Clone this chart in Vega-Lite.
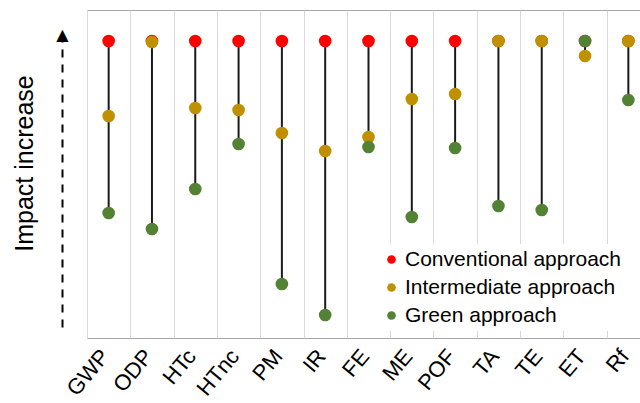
{
  "$schema": "https://vega.github.io/schema/vega-lite/v6.json",
  "autosize": {"type": "none"},
  "padding": {"left": 87, "top": 10, "right": 0, "bottom": 65},
  "width": 563,
  "height": 328,
  "background": "white",
  "config": {
    "font": "Liberation Sans",
    "view": {"stroke": "#a6a6a6", "strokeWidth": 1}
  },
  "data": {
    "values": [
      {"cat": "GWP", "approach": "Conventional approach", "value": 297},
      {"cat": "GWP", "approach": "Intermediate approach", "value": 222},
      {"cat": "GWP", "approach": "Green approach", "value": 125},
      {"cat": "ODP", "approach": "Conventional approach", "value": 297},
      {"cat": "ODP", "approach": "Intermediate approach", "value": 296},
      {"cat": "ODP", "approach": "Green approach", "value": 109},
      {"cat": "HTc", "approach": "Conventional approach", "value": 297},
      {"cat": "HTc", "approach": "Intermediate approach", "value": 230},
      {"cat": "HTc", "approach": "Green approach", "value": 149},
      {"cat": "HTnc", "approach": "Conventional approach", "value": 297},
      {"cat": "HTnc", "approach": "Intermediate approach", "value": 228},
      {"cat": "HTnc", "approach": "Green approach", "value": 194},
      {"cat": "PM", "approach": "Conventional approach", "value": 297},
      {"cat": "PM", "approach": "Intermediate approach", "value": 205},
      {"cat": "PM", "approach": "Green approach", "value": 54},
      {"cat": "IR", "approach": "Conventional approach", "value": 297},
      {"cat": "IR", "approach": "Intermediate approach", "value": 187},
      {"cat": "IR", "approach": "Green approach", "value": 23},
      {"cat": "FE", "approach": "Conventional approach", "value": 297},
      {"cat": "FE", "approach": "Intermediate approach", "value": 201},
      {"cat": "FE", "approach": "Green approach", "value": 191},
      {"cat": "ME", "approach": "Conventional approach", "value": 297},
      {"cat": "ME", "approach": "Intermediate approach", "value": 239},
      {"cat": "ME", "approach": "Green approach", "value": 121},
      {"cat": "POF", "approach": "Conventional approach", "value": 297},
      {"cat": "POF", "approach": "Intermediate approach", "value": 244},
      {"cat": "POF", "approach": "Green approach", "value": 190},
      {"cat": "TA", "approach": "Conventional approach", "value": 297},
      {"cat": "TA", "approach": "Intermediate approach", "value": 297},
      {"cat": "TA", "approach": "Green approach", "value": 132},
      {"cat": "TE", "approach": "Conventional approach", "value": 297},
      {"cat": "TE", "approach": "Intermediate approach", "value": 297},
      {"cat": "TE", "approach": "Green approach", "value": 128},
      {"cat": "ET", "approach": "Conventional approach", "value": 297},
      {"cat": "ET", "approach": "Intermediate approach", "value": 282},
      {"cat": "ET", "approach": "Green approach", "value": 297},
      {"cat": "Rf", "approach": "Conventional approach", "value": 297},
      {"cat": "Rf", "approach": "Intermediate approach", "value": 297},
      {"cat": "Rf", "approach": "Green approach", "value": 238}
    ]
  },
  "encoding": {
    "x": {
      "field": "cat",
      "type": "nominal",
      "sort": null,
      "scale": {"paddingInner": 0, "paddingOuter": 0},
      "axis": {
        "title": null,
        "domain": false,
        "ticks": false,
        "grid": true,
        "gridColor": "#d9d9d9",
        "gridWidth": 1,
        "tickBand": "extent",
        "labelAngle": -50,
        "labelAlign": "right",
        "labelBaseline": "middle",
        "labelPadding": 14,
        "labelOffset": -4,
        "labelFontSize": 22,
        "labelColor": "#000000",
        "labelFont": "Liberation Sans"
      }
    }
  },
  "layer": [
    {
      "mark": {"type": "rule", "color": "#1a1a1a", "strokeWidth": 2},
      "encoding": {
        "y": {
          "aggregate": "min",
          "field": "value",
          "type": "quantitative",
          "scale": {"domain": [0, 328], "nice": false, "zero": false},
          "axis": {
            "title": "Impact increase",
            "titleFontSize": 25,
            "titleFont": "Liberation Sans",
            "titleFontWeight": "normal",
            "titleColor": "#000000",
            "titleAngle": 270,
            "titleBaseline": "alphabetic",
            "titleAlign": "center",
            "titleX": -30,
            "titleY": 153,
            "offset": 25,
            "grid": false,
            "ticks": false,
            "tickSize": 0,
            "values": [304],
            "labelExpr": "'▲'",
            "labelAlign": "center",
            "labelBaseline": "middle",
            "labelPadding": 0,
            "labelFontSize": 16,
            "labelFont": "DejaVu Sans",
            "labelColor": "#000000",
            "domain": true,
            "domainColor": "#000000",
            "domainWidth": 2,
            "domainDash": [8,7,8,7,8,7,8,7,8,7,8,7,8,7,8,7,8,7,8,7,8,7,8,7,8,7,8,7,8,7,8,7,8,7,8,7,8,7,6,37],
            "domainDashOffset": 317
          }
        },
        "y2": {"aggregate": "max", "field": "value"}
      }
    },
    {
      "mark": {"type": "point", "filled": true, "size": 160, "opacity": 1},
      "encoding": {
        "y": {
          "field": "value",
          "type": "quantitative",
          "scale": {"domain": [0, 328], "nice": false, "zero": false},
          "axis": {
            "title": "Impact increase",
            "titleFontSize": 25,
            "titleFont": "Liberation Sans",
            "titleFontWeight": "normal",
            "titleColor": "#000000",
            "titleAngle": 270,
            "titleBaseline": "alphabetic",
            "titleAlign": "center",
            "titleX": -30,
            "titleY": 153,
            "offset": 25,
            "grid": false,
            "ticks": false,
            "tickSize": 0,
            "values": [304],
            "labelExpr": "'▲'",
            "labelAlign": "center",
            "labelBaseline": "middle",
            "labelPadding": 0,
            "labelFontSize": 16,
            "labelFont": "DejaVu Sans",
            "labelColor": "#000000",
            "domain": true,
            "domainColor": "#000000",
            "domainWidth": 2,
            "domainDash": [8,7,8,7,8,7,8,7,8,7,8,7,8,7,8,7,8,7,8,7,8,7,8,7,8,7,8,7,8,7,8,7,8,7,8,7,8,7,6,37],
            "domainDashOffset": 317
          }
        },
        "color": {
          "field": "approach",
          "type": "nominal",
          "scale": {
            "domain": ["Conventional approach", "Intermediate approach", "Green approach"],
            "range": ["#ff0000", "#bf9000", "#548235"]
          },
          "legend": {
            "orient": "none",
            "legendX": 289,
            "legendY": 234,
            "title": null,
            "fillColor": "white",
            "padding": 5,
            "labelFont": "Liberation Sans",
            "labelFontSize": 21,
            "labelColor": "#000000",
            "symbolType": "circle",
            "symbolSize": 75,
            "symbolStrokeWidth": 0,
            "symbolOpacity": 1,
            "rowPadding": 6,
            "labelOffset": 3,
            "labelLimit": 400
          }
        }
      }
    }
  ]
}
